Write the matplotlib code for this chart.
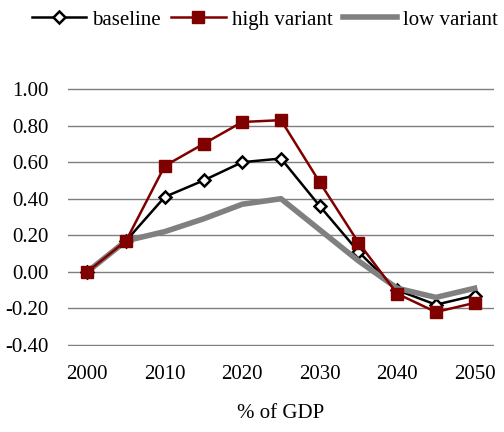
import matplotlib
matplotlib.use("Agg")
import matplotlib.pyplot as plt
import numpy as np

years = [2000, 2005, 2010, 2015, 2020, 2025, 2030, 2035, 2040, 2045, 2050]
baseline = [0.00, 0.17, 0.41, 0.50, 0.60, 0.62, 0.36, 0.11, -0.10, -0.18, -0.13]
high_variant = [0.00, 0.17, 0.58, 0.70, 0.82, 0.83, 0.49, 0.16, -0.12, -0.22, -0.17]
low_variant = [0.00, 0.17, 0.22, 0.29, 0.37, 0.40, 0.23, 0.06, -0.09, -0.14, -0.09]
yticks = [-0.4, -0.2, 0.0, 0.2, 0.4, 0.6, 0.8, 1.0]

plt.rcParams['font.family'] = ['Liberation Serif', 'DejaVu Serif']

fig = plt.figure(figsize=(5.04, 4.32), dpi=100)
ax = fig.add_axes([68 / 504, 1 - 346 / 432, 426 / 504, 258 / 432])

x = np.arange(len(years))
ax.plot(x, baseline, color='black', lw=1.8, marker='D', ms=6,
        mfc='white', mec='black', mew=1.8, label='baseline', zorder=2)
ax.plot(x, low_variant, color='#808080', lw=4, label='low variant', zorder=3)
ax.plot(x, high_variant, color='#800000', lw=1.8, marker='s', ms=9,
        label='high variant', zorder=4)

ax.set_xlim(-0.5, len(years) - 0.5)
ax.set_ylim(-0.406, 1.006)
ax.set_yticks(yticks)
ax.set_yticklabels([f'{v:.2f}' for v in yticks])
ax.set_xticks(x[::2])
ax.set_xticklabels([str(y) for y in years[::2]])
ax.grid(axis='y', color='#7f7f7f', lw=1)
ax.set_axisbelow(True)
for s in ax.spines.values():
    s.set_visible(False)
ax.tick_params(length=0, labelsize=15, colors='black')
ax.tick_params(axis='x', pad=14)
ax.tick_params(axis='y', pad=14)
ax.set_xlabel('% of GDP', fontsize=15, labelpad=14)

h, l = ax.get_legend_handles_labels()
order = [0, 2, 1]
fig.legend([h[i] for i in order], [l[i] for i in order], loc='upper center',
           bbox_to_anchor=(0.526, 1.02), ncol=3, frameon=False, fontsize=15,
           handlelength=2.6, handletextpad=0.3, columnspacing=0.5)

fig.savefig('out.png', dpi=100)
